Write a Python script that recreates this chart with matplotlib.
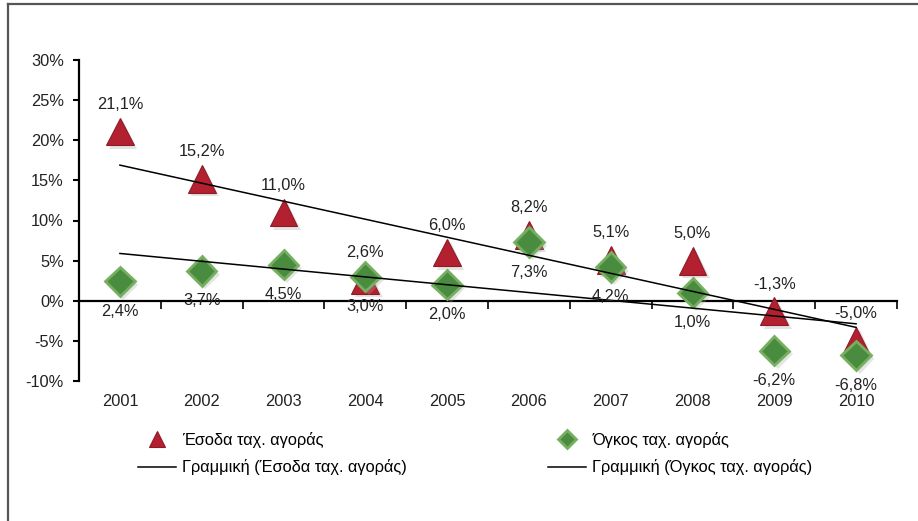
import numpy as np
import matplotlib
matplotlib.use("Agg")
import matplotlib.pyplot as plt
from matplotlib.lines import Line2D
import matplotlib.patheffects as pe

plt.rcParams['font.family'] = ['Liberation Sans Narrow', 'Liberation Sans', 'DejaVu Sans']

years = ['2001', '2002', '2003', '2004', '2005', '2006', '2007', '2008', '2009', '2010']
revenue = [21.1, 15.2, 11.0, 2.6, 6.0, 8.2, 5.1, 5.0, -1.3, -5.0]
volume = [2.4, 3.7, 4.5, 3.0, 2.0, 7.3, 4.2, 1.0, -6.2, -6.8]
rev_labels = ['21,1%', '15,2%', '11,0%', '2,6%', '6,0%', '8,2%', '5,1%', '5,0%', '-1,3%', '-5,0%']
vol_labels = ['2,4%', '3,7%', '4,5%', '3,0%', '2,0%', '7,3%', '4,2%', '1,0%', '-6,2%', '-6,8%']
yticks = [-10, -5, 0, 5, 10, 15, 20, 25, 30]
ytick_labels = ['-10%', '-5%', '0%', '5%', '10%', '15%', '20%', '25%', '30%']
name_rev = 'Έσοδα ταχ. αγοράς'
name_vol = 'Όγκος ταχ. αγοράς'
name_rev_tr = 'Γραμμική (Έσοδα ταχ. αγοράς)'
name_vol_tr = 'Γραμμική (Όγκος ταχ. αγοράς)'

FS = 11.8
W, H = 918, 521
fig = plt.figure(figsize=(W / 100, H / 100), dpi=100)
ax = fig.add_axes([79 / W, 1 - 381 / H, (897 - 79) / W, (381 - 60) / H])

x = np.arange(len(years))
shadow = [pe.SimplePatchShadow(offset=(2.5, -2.5), shadow_rgbFace='0.65', alpha=0.3), pe.Normal()]

l_rev, = ax.plot(x, revenue, linestyle='none', marker='^', markersize=20,
                 markerfacecolor='#B3202F', markeredgecolor='#8E1A27', markeredgewidth=0.8,
                 zorder=3, path_effects=shadow)
l_vol, = ax.plot(x, volume, linestyle='none', marker='D', markersize=15,
                 markerfacecolor='#4A8C3F', markeredgecolor='#76AF60', markeredgewidth=2,
                 zorder=4, path_effects=shadow)

# linear trendlines
cr = np.polyfit(x + 1, revenue, 1)
cv = np.polyfit(x + 1, volume, 1)
t_rev, = ax.plot(x, np.polyval(cr, x + 1), color='black', lw=1.1, zorder=5)
t_vol, = ax.plot(x, np.polyval(cv, x + 1), color='black', lw=1.1, zorder=5)

for xi, v, s in zip(x, revenue, rev_labels):
    ax.annotate(s, (xi, v), xytext=(0, 19.5), textcoords='offset points',
                ha='center', va='center', fontsize=FS, color='#222222', zorder=6)
for xi, v, s in zip(x, volume, vol_labels):
    ax.annotate(s, (xi, v), xytext=(0, -21.5), textcoords='offset points',
                ha='center', va='center', fontsize=FS, color='#222222', zorder=6)

ax.set_xlim(-0.5, 9.5)
ax.set_ylim(-10, 30)
ax.set_yticks(yticks)
ax.set_yticklabels(ytick_labels, fontsize=FS, color='#222222')
ax.tick_params(axis='y', direction='out', length=4, width=1.5, pad=7)

for s in ['top', 'right']:
    ax.spines[s].set_visible(False)
ax.spines['left'].set_linewidth(1.6)
ax.spines['bottom'].set_position(('data', 0))
ax.spines['bottom'].set_linewidth(1.6)
ax.set_xticks([])
ax.set_xticks(np.arange(-0.5, 10, 1), minor=True)
ax.tick_params(axis='x', which='minor', direction='out', length=6, width=1.2)

sec = ax.secondary_xaxis(0)
sec.set_xticks(x)
sec.set_xticklabels(years, fontsize=FS, color='#222222')
sec.tick_params(length=0, pad=9)
sec.spines['bottom'].set_visible(False)

leg = fig.legend([l_rev, t_rev, l_vol, t_vol], [name_rev, name_rev_tr, name_vol, name_vol_tr],
                 ncol=2, loc='upper left', bbox_to_anchor=(138 / W, 1 - 432 / H),
                 frameon=False, fontsize=FS, handlelength=2.3, handletextpad=0.4,
                 columnspacing=8.6, labelspacing=0.7, borderpad=0, borderaxespad=0,
                 markerscale=0.6)
for h in leg.legend_handles:
    h.set_path_effects([])

# outer frame (top and left)
fig.add_artist(Line2D([8 / W, 1], [1 - 4 / H, 1 - 4 / H], transform=fig.transFigure,
                      color='#555555', lw=1.6))
fig.add_artist(Line2D([8 / W, 8 / W], [0, 1 - 4 / H], transform=fig.transFigure,
                      color='#555555', lw=1.6))

fig.savefig('out.png', dpi=100)
